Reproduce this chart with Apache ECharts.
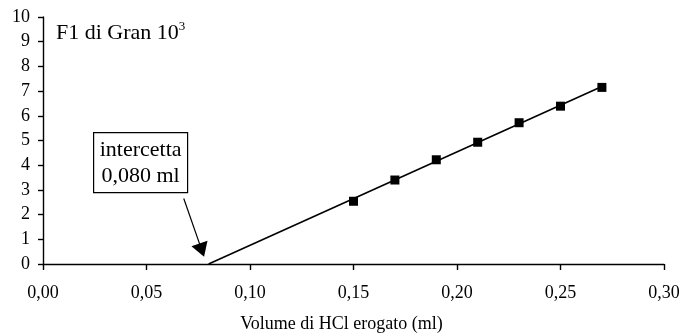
<!DOCTYPE html>
<html>
<head>
<meta charset="utf-8">
<script src="https://cdn.jsdelivr.net/npm/echarts@6/dist/echarts.min.js"></script>
<style>
  html, body { margin: 0; padding: 0; background: #fff; }
  #chart { width: 683px; height: 336px; }
</style>
</head>
<body>
<div id="chart"></div>
<script>
// Gran plot: F1 (x10^3) against volume of HCl added
const volume = [0.15, 0.17, 0.19, 0.21, 0.23, 0.25, 0.27];
const gran = [2.54, 3.40, 4.22, 4.93, 5.72, 6.39, 7.15];

// Regression line, extrapolated down to its intercept on the volume axis
const fitVolume = [0.080, 0.27];
const fitGran = [0, 7.19];

// Arrow pointing at the intercept (data coordinates: start, end)
const arrowStart = [0.068, 2.65];
const arrowEnd = [0.0767, 0.56];

const xTicks = [0, 0.05, 0.10, 0.15, 0.20, 0.25, 0.30];
const yTicks = [0, 1, 2, 3, 4, 5, 6, 7, 8, 9, 10];

const FONT = '"Liberation Serif", "Times New Roman", serif';
const comma = (v, d) => v.toFixed(d).replace('.', ',');

const chart = echarts.init(document.getElementById('chart'));

chart.setOption({
  animation: false,
  backgroundColor: '#fff',
  grid: { left: 43, right: 19, top: 17, bottom: 72, containLabel: false, outerBoundsMode: 'none' },
  xAxis: {
    type: 'value',
    min: xTicks[0],
    max: xTicks[xTicks.length - 1],
    interval: 0.05,
    splitLine: { show: false },
    axisLine: { onZero: false, lineStyle: { color: '#000', width: 1.4 } },
    axisTick: { length: 6, lineStyle: { color: '#000', width: 1.4 } },
    axisLabel: {
      margin: 20, color: '#000', fontFamily: FONT, fontSize: 18,
      formatter: v => comma(v, 2)
    }
  },
  yAxis: {
    type: 'value',
    min: yTicks[0],
    max: yTicks[yTicks.length - 1],
    interval: 1,
    splitLine: { show: false },
    axisLine: { show: true, onZero: false, lineStyle: { color: '#000', width: 1.4 } },
    axisTick: { show: true, length: 5, lineStyle: { color: '#000', width: 1.4 } },
    axisLabel: { margin: 13, color: '#000', fontFamily: FONT, fontSize: 18 }
  },
  series: [
    {
      type: 'line',
      data: fitVolume.map((x, i) => [x, fitGran[i]]),
      symbol: 'none',
      lineStyle: { color: '#000', width: 1.6 },
      z: 2,
      markLine: {
        silent: true,
        symbol: ['none', 'triangle'],
        symbolSize: [17, 14],
        label: { show: false },
        lineStyle: { color: '#000', width: 1.2, type: 'solid' },
        data: [[{ coord: arrowStart }, { coord: arrowEnd }]]
      }
    },
    {
      type: 'scatter',
      data: volume.map((x, i) => [x, gran[i]]),
      symbol: 'rect',
      symbolSize: 9,
      itemStyle: { color: '#000', opacity: 1 },
      z: 3
    }
  ],
  graphic: [
    {
      type: 'text',
      left: 56,
      top: 20,
      style: {
        text: '{b|F1 di Gran 10}{s|3}',
        rich: {
          b: { fontFamily: FONT, fontSize: 22, fill: '#000', verticalAlign: 'bottom', lineHeight: 24 },
          s: { fontFamily: FONT, fontSize: 13, fill: '#000', verticalAlign: 'top', lineHeight: 24, padding: [0, 0, 10, 0] }
        }
      }
    },
    {
      type: 'group',
      left: 93,
      top: 132,
      children: [
        {
          type: 'rect',
          shape: { x: 0, y: 0, width: 94, height: 60 },
          style: { fill: '#fff', stroke: '#000', lineWidth: 1.2 }
        },
        {
          type: 'text',
          x: 47, y: 18,
          style: { text: 'intercetta', fontFamily: FONT, fontSize: 22, fill: '#000', align: 'center', verticalAlign: 'middle' }
        },
        {
          type: 'text',
          x: 47, y: 44,
          style: { text: comma(fitVolume[0], 3) + ' ml', fontFamily: FONT, fontSize: 22, fill: '#000', align: 'center', verticalAlign: 'middle' }
        }
      ]
    },
    {
      type: 'text',
      left: 'center',
      top: 315,
      style: { text: 'Volume di HCl erogato (ml)', fontFamily: FONT, fontSize: 18, fill: '#000' }
    }
  ]
});
</script>
</body>
</html>
